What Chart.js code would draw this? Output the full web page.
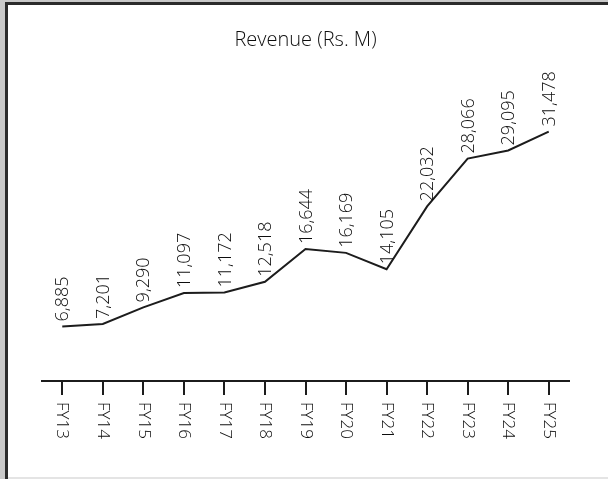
<!DOCTYPE html>
<html>
<head>
<meta charset="utf-8">
<script src="https://cdn.jsdelivr.net/npm/chart.js@4/dist/chart.umd.min.js"></script>
<style>
  html, body { margin: 0; padding: 0; width: 608px; height: 479px; overflow: hidden; background: #c9c9c9; }
  #frame {
    position: absolute; left: 5px; top: 2px; right: 0; bottom: 0;
    border-left: 3px solid #2b2b2b; border-top: 3px solid #2b2b2b;
    background: #ffffff;
  }
  #foot { position: absolute; left: 8px; right: 0; top: 477px; height: 2px; background: #e4e4e4; }
  #box { position: absolute; left: 8px; top: 5px; width: 600px; height: 472px; }
</style>
</head>
<body>
<div id="frame"></div>
<div id="box"><canvas id="chart" width="600" height="472"></canvas></div>
<div id="foot"></div>
<script>
// Fiscal years and revenue in Rs. millions
const years = ['FY13', 'FY14', 'FY15', 'FY16', 'FY17', 'FY18', 'FY19', 'FY20', 'FY21', 'FY22', 'FY23', 'FY24', 'FY25'];
const revenue = [6885, 7201, 9290, 11097, 11172, 12518, 16644, 16169, 14105, 22032, 28066, 29095, 31478];
const chartTitle = 'Revenue (Rs. M)';

const FONT = '"Open Sans", "Noto Sans", sans-serif';
const INK = '#0d0d0d';

// Value labels written upward above each point
const valueLabels = {
  id: 'valueLabels',
  afterDatasetsDraw(chart) {
    const ctx = chart.ctx;
    const meta = chart.getDatasetMeta(0);
    ctx.save();
    ctx.fillStyle = INK;
    ctx.font = '300 18px ' + FONT;
    ctx.textAlign = 'left';
    ctx.textBaseline = 'middle';
    meta.data.forEach((pt, i) => {
      ctx.save();
      ctx.translate(pt.x, pt.y - 5);
      ctx.rotate(-Math.PI / 2);
      ctx.fillText(revenue[i].toLocaleString('en-US'), 0, 1);
      ctx.restore();
    });
    ctx.restore();
  }
};

// Category labels written downward under each tick mark
const downLabels = {
  id: 'downLabels',
  afterDraw(chart) {
    const ctx = chart.ctx;
    const xs = chart.scales.x;
    ctx.save();
    ctx.fillStyle = INK;
    ctx.font = '300 17px ' + FONT;
    ctx.textAlign = 'left';
    ctx.textBaseline = 'middle';
    xs.ticks.forEach((t, i) => {
      ctx.save();
      ctx.translate(xs.getPixelForTick(i), xs.top + 21);
      ctx.rotate(Math.PI / 2);
      ctx.fillText(years[i], 0, 0);
      ctx.restore();
    });
    ctx.restore();
  }
};

new Chart(document.getElementById('chart'), {
  type: 'line',
  data: {
    labels: years,
    datasets: [{
      data: revenue,
      borderColor: '#1c1c1c',
      borderWidth: 2,
      pointRadius: 0,
      tension: 0,
      fill: false
    }]
  },
  options: {
    responsive: false,
    animation: false,
    layout: { padding: { left: 34, right: 39, top: 0, bottom: 82 } },
    plugins: {
      legend: { display: false },
      tooltip: { enabled: false },
      title: {
        display: true,
        text: chartTitle,
        color: INK,
        font: { family: FONT, size: 20, weight: '300' },
        padding: { top: 23, bottom: 12 }
      }
    },
    scales: {
      x: {
        offset: true,
        grid: { drawOnChartArea: false, drawTicks: true, tickLength: 14, color: '#1c1c1c', lineWidth: 2 },
        border: { display: true, color: '#1c1c1c', width: 2 },
        ticks: { display: false }
      },
      y: {
        display: false,
        min: 0,
        max: 40000
      }
    }
  },
  plugins: [valueLabels, downLabels]
});
</script>
</body>
</html>
